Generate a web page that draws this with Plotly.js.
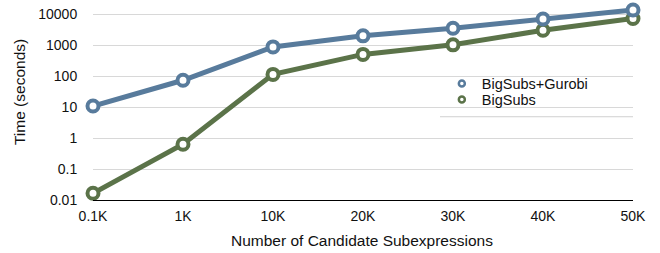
<!DOCTYPE html>
<html>
<head>
<meta charset="utf-8">
<script src="https://cdn.plot.ly/plotly-3.0.1.min.js"></script>
<style>html,body{margin:0;padding:0;background:#fff;}#chart{width:660px;height:253px;}</style>
</head>
<body>
<div id="chart"></div>
<script>
var categories = ["0.1K", "1K", "10K", "20K", "30K", "40K", "50K"];
var gurobiTimes = [11, 75, 900, 2050, 3600, 7200, 14000];
var bigsubsTimes = [0.0165, 0.64, 116, 515, 1050, 3100, 7500];
var yTickVals = [0.01, 0.1, 1, 10, 100, 1000, 10000];
var yTickText = ["0.01", "0.1", "1", "10", "100", "1000", "10000"];
var seriesNames = ["BigSubs+Gurobi", "BigSubs"];

var BLUE = "#587b9c";
var GREEN = "#5b7349";
var FONT = "Liberation Sans, Arial, Helvetica, sans-serif";

function lineTrace(y, color) {
  return {
    x: categories, y: y, type: "scatter", mode: "lines+markers",
    line: {color: color, width: 5},
    marker: {symbol: "circle", size: 11, color: "#ffffff", line: {color: color, width: 4}},
    cliponaxis: false, showlegend: false, hoverinfo: "skip"
  };
}
function legendTrace(name, color, legendId) {
  return {
    x: [null], y: [null], type: "scatter", mode: "markers", name: name,
    marker: {symbol: "circle", size: 6, color: "#ffffff", line: {color: color, width: 2.5}},
    showlegend: true, legend: legendId
  };
}

var data = [
  lineTrace(bigsubsTimes, GREEN),
  lineTrace(gurobiTimes, BLUE),
  legendTrace(seriesNames[0], BLUE, "legend"),
  legendTrace(seriesNames[1], GREEN, "legend2")
];

var legendFont = {family: FONT, size: 14.5, color: "#111111"};

var layout = {
  width: 660, height: 253,
  margin: {l: 93, r: 27, t: 5, b: 53},
  paper_bgcolor: "#ffffff", plot_bgcolor: "#ffffff",
  font: {family: FONT, size: 14, color: "#111111"},
  xaxis: {
    type: "category", range: [0, 6], showgrid: false, zeroline: false,
    showline: true, linecolor: "#000000", linewidth: 1.2,
    ticks: "outside", ticklen: 3, tickcolor: "rgba(0,0,0,0)",
    tickfont: {family: FONT, size: 14, color: "#111111"}
  },
  yaxis: {
    type: "log", range: [-2, 4.31], showgrid: true, gridcolor: "#d8d8d8", gridwidth: 1,
    zeroline: false, showline: false,
    tickvals: yTickVals, ticktext: yTickText,
    ticks: "outside", ticklen: 12, tickcolor: "rgba(0,0,0,0)",
    tickfont: {family: FONT, size: 14, color: "#111111"}
  },
  showlegend: true,
  legend: {
    x: 0.646, y: 0.679, xanchor: "left", yanchor: "top",
    bgcolor: "rgba(0,0,0,0)", borderwidth: 0, font: legendFont
  },
  legend2: {
    x: 0.646, y: 0.597, xanchor: "left", yanchor: "top",
    bgcolor: "rgba(0,0,0,0)", borderwidth: 0, font: legendFont
  },
  shapes: [
    {type: "rect", xref: "paper", yref: "paper", x0: 0.6426, x1: 1, y0: 0.427, y1: 0.631,
     fillcolor: "#ffffff", line: {width: 0}, layer: "between"},
    {type: "line", xref: "paper", yref: "paper", x0: 0.6426, x1: 1, y0: 0.427, y1: 0.427,
     line: {color: "#d0d0d0", width: 1}, layer: "between"}
  ],
  annotations: [
    {text: "Time (seconds)", xref: "paper", yref: "paper", x: -0.135, y: 0.554,
     xanchor: "center", yanchor: "middle", textangle: -90, showarrow: false,
     font: {family: FONT, size: 15.5, color: "#111111"}},
    {text: "Number of Candidate Subexpressions", xref: "paper", yref: "paper", x: 0.498, y: -0.21,
     xanchor: "center", yanchor: "middle", showarrow: false,
     font: {family: FONT, size: 15.5, color: "#111111"}}
  ]
};

Plotly.newPlot("chart", data, layout, {staticPlot: true, displayModeBar: false});
</script>
</body>
</html>
